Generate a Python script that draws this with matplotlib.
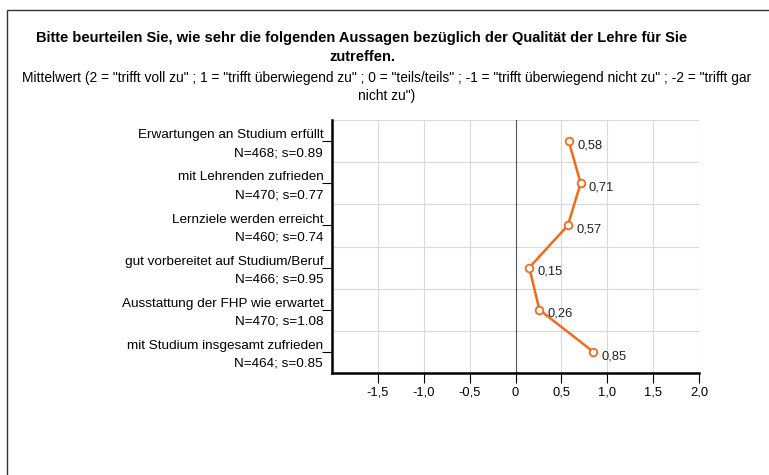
import matplotlib.pyplot as plt
from matplotlib.patches import Rectangle

# data
items = ['Erwartungen an Studium erfüllt', 'mit Lehrenden zufrieden', 'Lernziele werden erreicht',
         'gut vorbereitet auf Studium/Beruf', 'Ausstattung der FHP wie erwartet',
         'mit Studium insgesamt zufrieden']
n_values = [468, 470, 460, 466, 470, 464]
s_values = [0.89, 0.77, 0.74, 0.95, 1.08, 0.85]
means = [0.58, 0.71, 0.57, 0.15, 0.26, 0.85]
x_ticks = [-1.5, -1.0, -0.5, 0, 0.5, 1.0, 1.5, 2.0]

plt.rcParams['font.family'] = ['Liberation Sans', 'DejaVu Sans']
orange = '#f26a1b'

fig = plt.figure(figsize=(7.69, 4.75), dpi=100)
W, H = 769, 475

# outer frame (open to the right and bottom)
fig.patches.append(Rectangle((7 / W, -0.1), 1.2, 1 - 10 / H + 0.1, transform=fig.transFigure,
                             fill=False, edgecolor='#333333', linewidth=1.0))

fig.text(362 / W, 1 - 38 / H, 'Bitte beurteilen Sie, wie sehr die folgenden Aussagen bezüglich der Qualität der Lehre für Sie',
         ha='center', va='center', fontsize=10.5, fontweight='bold')
fig.text(362 / W, 1 - 57 / H, 'zutreffen.', ha='center', va='center', fontsize=10.5, fontweight='bold')
fig.text(387 / W, 1 - 78 / H,
         'Mittelwert (2 = "trifft voll zu" ; 1 = "trifft überwiegend zu" ; 0 = "teils/teils" ; '
         '-1 = "trifft überwiegend nicht zu" ; -2 = "trifft gar',
         ha='center', va='center', fontsize=9.9)
fig.text(387 / W, 1 - 96 / H, 'nicht zu")', ha='center', va='center', fontsize=9.9)

left, right, top, bottom = 332, 699, 120, 373
ax = fig.add_axes([left / W, 1 - bottom / H, (right - left) / W, (bottom - top) / H])

y = [i + 0.5 for i in range(len(items))]
ax.plot(means, y, color=orange, linewidth=1.8, marker='o', markersize=5.5,
        markerfacecolor='white', markeredgecolor=orange, markeredgewidth=1.3, zorder=4)
for m, yy in zip(means, y):
    ax.annotate(f'{m:.2f}'.replace('.', ','), (m, yy), xytext=(6, -3), textcoords='offset points',
                ha='left', va='center', fontsize=9.3, color='#222222')

ax.set_xlim(-2, 2)
ax.set_ylim(len(items), 0)
ax.set_xticks(x_ticks)
ax.set_xticklabels([('0' if t == 0 else f'{t:.1f}'.replace('.', ',')) for t in x_ticks], fontsize=9.3)
ax.set_yticks(y)
ax.set_yticklabels([])
# item labels, placed by hand so they sit slightly below the tick
for t, n, s, yy in zip(items, n_values, s_values, y):
    ax.annotate(f'{t}\nN={n}; s={s:.2f}', (0, yy), xycoords=('axes fraction', 'data'),
                xytext=(-6.3, -2.2), textcoords='offset points',
                ha='right', va='center', fontsize=9.7, linespacing=1.65, annotation_clip=False)

for gx in [-1.5, -1.0, -0.5, 0.5, 1.0, 1.5, 2.0]:
    ax.axvline(gx, color='#d9d9d9', linewidth=0.8, zorder=1)
ax.axvline(0, color='#555555', linewidth=0.8, zorder=2)
for gy in range(0, len(items)):
    ax.axhline(gy, color='#d9d9d9', linewidth=0.8, zorder=1)

for side in ['top', 'right']:
    ax.spines[side].set_visible(False)
ax.spines['left'].set_linewidth(1.8)
ax.spines['bottom'].set_linewidth(1.8)
ax.tick_params(axis='x', length=7, width=0.8, pad=3)
ax.tick_params(axis='y', length=7, width=0.8, pad=1)

fig.savefig('out.png', dpi=100)
